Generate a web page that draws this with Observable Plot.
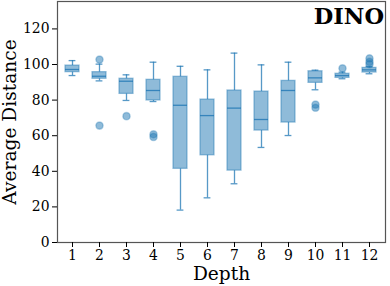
<!DOCTYPE html>
<html>
<head>
<meta charset="utf-8">
<script src="https://cdn.jsdelivr.net/npm/d3@7"></script>
<script src="https://cdn.jsdelivr.net/npm/@observablehq/plot@0.6"></script>
<style>
  html, body { margin: 0; padding: 0; background: #fff; }
  svg { font-family: "DejaVu Serif", serif; }
  [aria-label="x-axis label"] text, [aria-label="y-axis label"] text { font-size: 18.6px; }
</style>
</head>
<body>
<div id="chart"></div>
<script>
const depths      = [1, 2, 3, 4, 5, 6, 7, 8, 9, 10, 11, 12];
const whiskerLow  = [93.8, 90.8, 79.8, 79.2, 18.2, 25.1, 33.0, 53.4, 60.1, 85.8, 92.0, 94.8];
const q1          = [95.7, 92.0, 83.5, 79.8, 41.4, 49.0, 40.4, 62.9, 67.4, 89.7, 92.5, 95.5];
const median      = [97.2, 93.4, 90.6, 85.4, 77.1, 71.3, 75.5, 69.1, 85.4, 92.5, 93.8, 97.0];
const q3          = [99.4, 95.7, 92.0, 91.4, 93.1, 80.3, 85.4, 84.8, 90.8, 96.2, 94.8, 98.1];
const whiskerHigh = [102.2, 100.2, 94.2, 101.3, 99.0, 97.0, 106.4, 99.8, 101.3, 96.8, 95.7, 98.9];
const outlierDepth = [2, 2, 3, 4, 4, 10, 10, 11, 12, 12, 12];
const outlierValue = [102.8, 65.7, 71.0, 60.8, 59.3, 77.5, 75.7, 97.9, 103.4, 101.5, 100.2];
const yTicks = [0, 20, 40, 60, 80, 100, 120];
const title = "DINO";

const boxes = depths.map((d, i) => ({
  depth: d, lo: whiskerLow[i], q1: q1[i], med: median[i], q3: q3[i], hi: whiskerHigh[i]
}));
const outliers = outlierDepth.map((d, i) => ({depth: d, value: outlierValue[i]}));

const C0 = "#1f77b4";
const plot = Plot.plot({
  width: 390,
  height: 286,
  marginTop: 1,
  marginRight: 5,
  marginBottom: 44,
  marginLeft: 57,
  style: {fontFamily: "DejaVu Serif, serif", fontSize: "13.9px", background: "#fff", color: "#000"},
  x: {type: "band", domain: depths, paddingInner: 0.48, paddingOuter: 0.24, label: "Depth",
      labelAnchor: "center", labelArrow: "none"},
  y: {domain: [0, 135.4], label: "Average Distance", labelAnchor: "center", labelArrow: "none"},
  marks: [
    Plot.ruleX(boxes, {x: "depth", y1: "lo", y2: "q1", stroke: C0, strokeOpacity: 0.75, strokeWidth: 1.3}),
    Plot.ruleX(boxes, {x: "depth", y1: "q3", y2: "hi", stroke: C0, strokeOpacity: 0.75, strokeWidth: 1.3}),
    Plot.tickY(boxes, {x: "depth", y: "lo", stroke: C0, strokeOpacity: 0.75, strokeWidth: 1.3, insetLeft: 3.6, insetRight: 3.6}),
    Plot.tickY(boxes, {x: "depth", y: "hi", stroke: C0, strokeOpacity: 0.75, strokeWidth: 1.3, insetLeft: 3.6, insetRight: 3.6}),
    Plot.barY(boxes, {x: "depth", y1: "q1", y2: "q3", fill: C0, fillOpacity: 0.5, stroke: C0, strokeOpacity: 0.45, strokeWidth: 1.3}),
    Plot.tickY(boxes, {x: "depth", y: "med", stroke: C0, strokeOpacity: 0.8, strokeWidth: 1.3}),
    Plot.dot(outliers, {x: "depth", y: "value", r: 3.6, fill: C0, fillOpacity: 0.5, stroke: C0, strokeOpacity: 0.3}),
    Plot.frame({stroke: "#555", strokeWidth: 1.2}),
    Plot.axisY({ticks: yTicks, tickSize: 5, tickPadding: 3, label: "Average Distance",
                labelAnchor: "center", labelArrow: "none", labelOffset: 55}),
    Plot.axisX({tickSize: 5, tickPadding: 3, label: "Depth", labelAnchor: "center",
                labelArrow: "none", labelOffset: 37}),
    Plot.text([title], {frameAnchor: "top-right", dx: -1.5, dy: 7, text: d => d,
                        fontWeight: "bold", fontSize: 22.5, fill: "#000"})
  ]
});
document.getElementById("chart").appendChild(plot);
</script>
</body>
</html>
